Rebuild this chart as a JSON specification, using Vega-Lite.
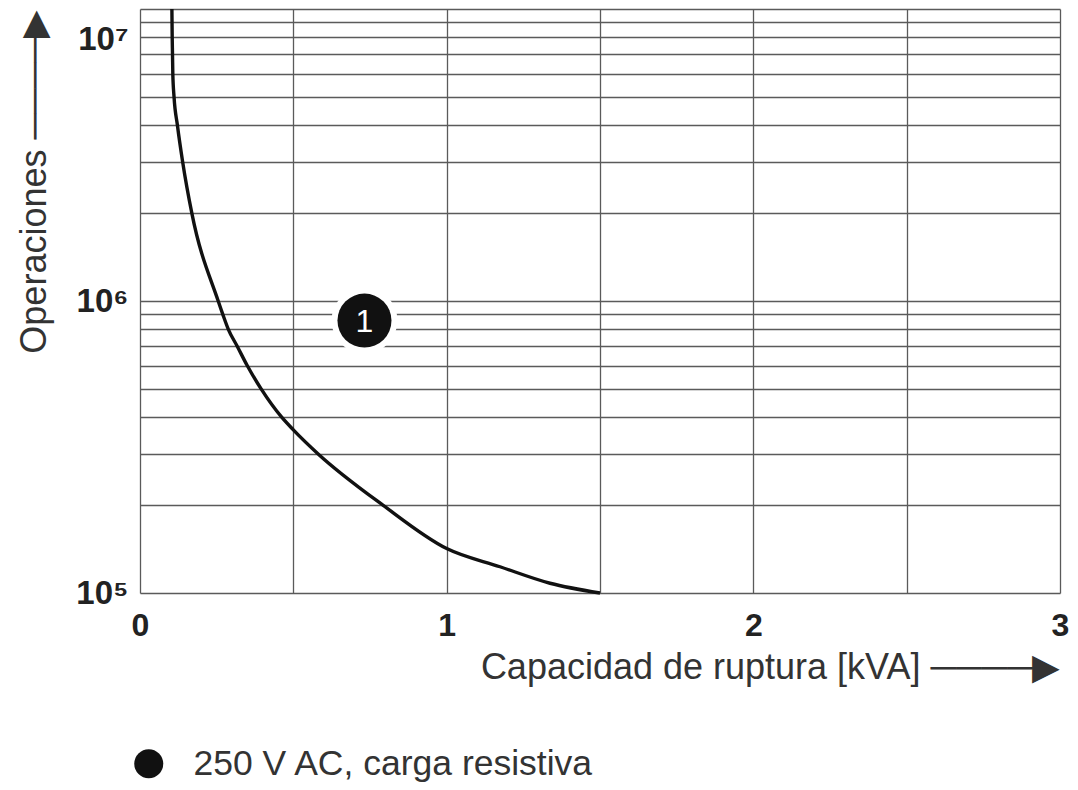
{
  "$schema": "https://vega.github.io/schema/vega-lite/v6.json",
  "width": 920,
  "height": 584,
  "autosize": {"type": "none"},
  "padding": {"left": 140, "top": 9, "right": 18, "bottom": 197},
  "background": "white",
  "config": {"view": {"stroke": null}, "font": "Liberation Sans"},
  "datasets": {
    "curve": [
      {"x": 0.104, "y": 10000000},
      {"x": 0.105, "y": 8000000},
      {"x": 0.106, "y": 7000000},
      {"x": 0.107, "y": 6000000},
      {"x": 0.111, "y": 5000000},
      {"x": 0.122, "y": 4000000},
      {"x": 0.139, "y": 3000000},
      {"x": 0.169, "y": 2000000},
      {"x": 0.255, "y": 1000000},
      {"x": 0.27, "y": 900000},
      {"x": 0.288, "y": 800000},
      {"x": 0.317, "y": 700000},
      {"x": 0.35, "y": 600000},
      {"x": 0.395, "y": 500000},
      {"x": 0.462, "y": 400000},
      {"x": 0.5, "y": 362000},
      {"x": 0.58, "y": 300000},
      {"x": 0.792, "y": 200000},
      {"x": 1.0, "y": 142000},
      {"x": 1.174, "y": 123000},
      {"x": 1.337, "y": 108000},
      {"x": 1.5, "y": 100000}
    ],
    "badge": [
      {"x": 0.732, "y": 856700, "label": "1", "serie": "250 V AC, carga resistiva"}
    ]
  },
  "layer": [
    {
      "data": {"name": "curve"},
      "mark": {"type": "line", "color": "#111", "strokeWidth": 3.4, "interpolate": "monotone"},
      "encoding": {
        "x": {
          "field": "x", "type": "quantitative",
          "scale": {"domain": [0, 3], "nice": false, "zero": false},
          "axis": {
            "title": "Capacidad de ruptura [kVA] ────▶",
            "values": [0, 0.5, 1, 1.5, 2, 2.5, 3],
            "labelExpr": "datum.value % 1 === 0 ? format(datum.value, 'd') : ''",
            "grid": true, "gridColor": "#5a5a5a", "gridWidth": 1.3, "gridOpacity": 1,
            "domain": false, "ticks": false,
            "labelFont": "Liberation Sans", "labelFontWeight": "bold", "labelFontSize": 32,
            "labelColor": "#222", "labelPadding": 17, "labelFlush": false,
            "labelOverlap": false, "labelBound": false,
            "titleFont": "Liberation Sans", "titleFontWeight": "normal", "titleFontSize": 36,
            "titleColor": "#333", "titleAnchor": "end", "titlePadding": 9
          }
        },
        "y": {
          "field": "y", "type": "quantitative",
          "scale": {"type": "log", "domain": [100000, 10000000], "nice": false},
          "axis": {
            "title": "Operaciones ────▶",
            "values": [100000, 200000, 300000, 400000, 500000, 600000, 700000, 800000, 900000,
                       1000000, 2000000, 3000000, 4000000, 5000000, 6000000, 7000000, 8000000, 9000000, 10000000],
            "labelExpr": "datum.value === 100000 ? '10⁵' : datum.value === 1000000 ? '10⁶' : datum.value === 10000000 ? '10⁷' : ''",
            "grid": true, "gridColor": "#5a5a5a", "gridWidth": 1.3, "gridOpacity": 1,
            "domain": false, "ticks": false,
            "labelFont": "Liberation Sans", "labelFontWeight": "bold", "labelFontSize": 33,
            "labelColor": "#222", "labelPadding": 12, "labelFlush": false,
            "labelOverlap": false, "labelBound": false,
            "labelOffset": {"condition": {"test": "datum.value >= 9500000", "value": 30}, "value": 0},
            "titleFont": "Liberation Sans", "titleFontWeight": "normal", "titleFontSize": 36,
            "titleColor": "#333", "titleAnchor": "end", "titlePadding": 22
          }
        }
      }
    },
    {
      "data": {"name": "badge"},
      "mark": {"type": "point", "filled": true, "shape": "circle", "size": 4356, "color": "white", "opacity": 1},
      "encoding": {
        "x": {"field": "x", "type": "quantitative"},
        "y": {"field": "y", "type": "quantitative"}
      }
    },
    {
      "data": {"name": "badge"},
      "mark": {"type": "point", "filled": true, "shape": "circle", "size": 2916, "opacity": 1},
      "encoding": {
        "x": {"field": "x", "type": "quantitative"},
        "y": {"field": "y", "type": "quantitative"},
        "color": {
          "field": "serie", "type": "nominal",
          "scale": {"range": ["#111"]},
          "legend": {
            "orient": "none", "legendX": -9, "legendY": 737, "title": null,
            "symbolType": "circle", "symbolSize": 840, "symbolStrokeWidth": 0,
            "labelFontSize": 35.5, "labelColor": "#333", "labelFont": "Liberation Sans",
            "labelOffset": 27, "padding": 0, "labelLimit": 700
          }
        }
      }
    },
    {
      "data": {"name": "badge"},
      "mark": {"type": "text", "fontSize": 32, "color": "white", "baseline": "middle", "align": "center", "font": "Liberation Sans", "dy": 1},
      "encoding": {
        "x": {"field": "x", "type": "quantitative"},
        "y": {"field": "y", "type": "quantitative"},
        "text": {"field": "label"}
      }
    }
  ]
}
